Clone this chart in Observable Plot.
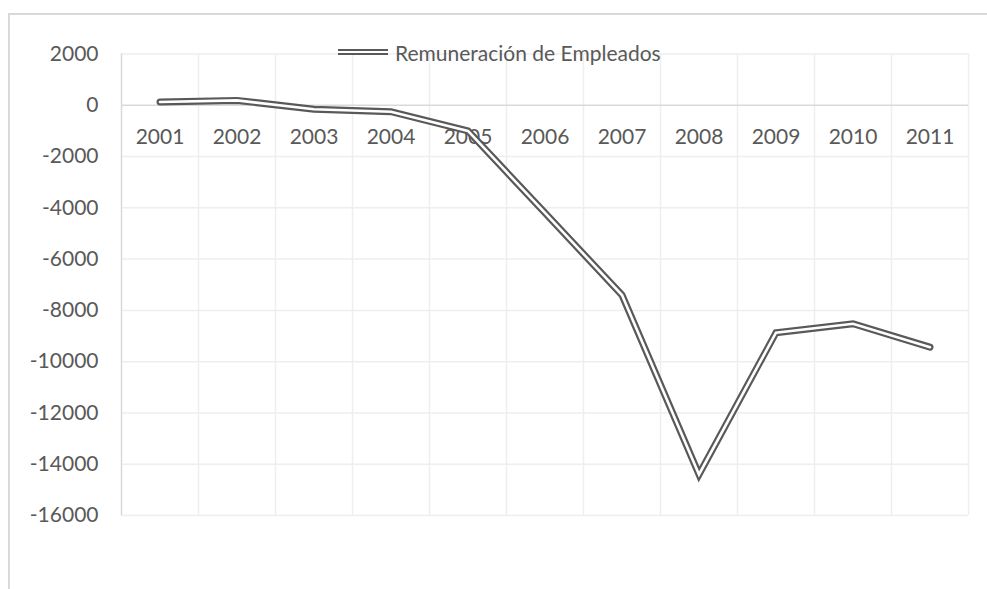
<!DOCTYPE html>
<html>
<head>
<meta charset="utf-8">
<script src="https://cdn.jsdelivr.net/npm/d3@7"></script>
<script src="https://cdn.jsdelivr.net/npm/@observablehq/plot@0.6"></script>
<style>
  body { margin: 0; background: #fff; }
  #wrap { position: relative; width: 987px; height: 589px; overflow: hidden; font-family: Lato, "Open Sans", sans-serif; }
  #frame { position: absolute; left: 8px; top: 13px; width: 1200px; height: 800px; border: 2px solid #d9d9d9; box-sizing: border-box; }
  #chart { position: absolute; left: 0; top: 0; }
  #legend { position: absolute; left: 338px; top: 38px; height: 28px; display: flex; align-items: center; gap: 7px; color: #595959; font-size: 21px; }
  #legend .sw { width: 50px; height: 2px; border-top: 2.5px solid #595959; border-bottom: 2.5px solid #595959; }
</style>
</head>
<body>
<div id="wrap">
  <div id="frame"></div>
  <div id="chart"></div>
  <div id="legend"><div class="sw"></div><span>Remuneración de Empleados</span></div>
</div>
<script>
const years = ["2001","2002","2003","2004","2005","2006","2007","2008","2009","2010","2011"];
const values = [130, 190, -155, -250, -1000, -4200, -7400, -14400, -8870, -8520, -9435];
const yTicks = [2000, 0, -2000, -4000, -6000, -8000, -10000, -12000, -14000, -16000];

const data = years.map((y, i) => ({idx: i + 1, year: y, value: values[i]}));
const bounds = d3.range(0, years.length + 1).map(i => i + 0.5);
const innerBounds = bounds.slice(1);

const plot = Plot.plot({
  width: 987,
  height: 589,
  marginLeft: 121,
  marginRight: 19,
  marginTop: 53.5,
  marginBottom: 74,
  style: { fontFamily: "Lato, 'Open Sans', sans-serif", fontSize: "21px", color: "#595959", background: "transparent" },
  x: { domain: [0.5, years.length + 0.5], axis: null },
  y: { domain: [-16000, 2000], ticks: yTicks },
  marks: [
    Plot.ruleY(yTicks.filter(t => t !== 0), { stroke: "#eeeeee", strokeWidth: 1.5 }),
    Plot.ruleX(innerBounds, { stroke: "#eeeeee", strokeWidth: 1.5 }),
    Plot.ruleX([0.5], { stroke: "#d9d9d9", strokeWidth: 1.5 }),
    Plot.ruleY([0], { stroke: "#d9d9d9", strokeWidth: 1.5 }),
    Plot.axisY({ ticks: yTicks, tickSize: 0, tickPadding: 23, label: null, tickFormat: d => String(d), fontSize: 21 }),
    Plot.text(data, { x: "idx", y: () => 0, text: "year", dy: 32, fill: "#595959", fontSize: 21 }),
    Plot.line(data, { x: "idx", y: "value", stroke: "#595959", strokeWidth: 7, strokeLinejoin: "miter", strokeMiterlimit: 10 }),
    Plot.line(data, { x: "idx", y: "value", stroke: "#ffffff", strokeWidth: 2.6, strokeLinejoin: "miter", strokeMiterlimit: 10 })
  ]
});
document.getElementById("chart").appendChild(plot);
</script>
</body>
</html>
